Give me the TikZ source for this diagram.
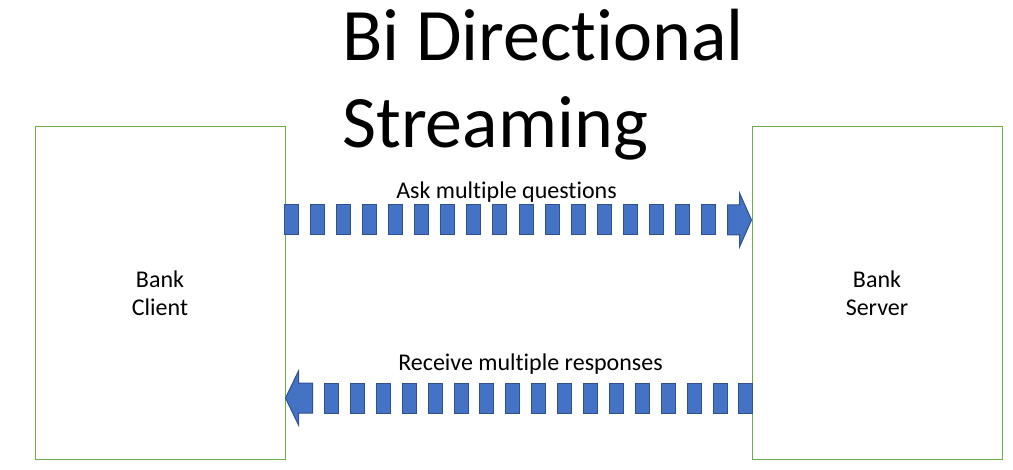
\documentclass[tikz,border=0pt]{standalone}
\usepackage{fontspec}
\setmainfont{Carlito}[RawFeature={-liga}]
\usetikzlibrary{positioning,calc}
\definecolor{boxgreen}{RGB}{112,173,71}
\definecolor{streamblue}{RGB}{68,114,196}
\definecolor{streamedge}{RGB}{47,82,143}

\begin{document}
\begin{tikzpicture}[x=0.75pt, y=-0.75pt,
	host/.style={draw=boxgreen, line width=0.75pt, minimum width=187.5pt, minimum height=249pt,
		align=center, inner sep=0pt, font=\fontsize{18}{21}\selectfont},
	stripe/.style={fill=streamblue, draw=streamedge, line width=0.75pt},
	msgtext/.style={font=\fontsize{18}{21}\selectfont, inner sep=0pt, anchor=base},
	titletext/.style={font=\fontsize{55.5}{65}\selectfont, inner sep=0pt, anchor=base west}]
	%Bildbereich
	\useasboundingbox (0,0) rectangle (1013,470);
	% Titel
	\node[titletext] (title) at (342,61) {Bi Directional};
	\node[titletext] (title2) at ($(title.base west)+(0,87)$) {Streaming};
	% Client und Server
	\node[host] (client) at (160,293) {Bank\\Client};
	\node[host, right=349.5pt of client] (server) {Bank\\Server};
	% Endpunkte der Pfeile
	\coordinate (askL) at ($(client.east)+(0,-73)$);
	\coordinate (askR) at ($(server.west)+(0,-73)$);
	\coordinate (respL) at ($(client.east)+(0,105)$);
	\coordinate (respR) at ($(server.west)+(0,105)$);
	% Fragen: Client -> Server
	\foreach \i in {0,...,16} \draw[stripe] ($(askL)+(\i*26.06-1,-15)$) rectangle +(14,30);
	\draw[stripe] ($(askR)+(-24,-15)$) -- ++(12,0) -- ++(0,-12) -- (askR)
		-- ($(askR)+(-12,27)$) -- ++(0,-12) -- ++(-12,0) -- cycle;
	\node[msgtext] (ask) at ($(askL)+(221,-21)$) {Ask multiple questions};
	% Antworten: Server -> Client
	\foreach \i in {0,...,16} \draw[stripe] ($(respL)+(39+\i*25.9,-15)$) rectangle +(14,30);
	\draw[stripe] (respL) -- ($(respL)+(13,-27)$) -- ++(0,12) -- ++(14,0) -- ++(0,30)
		-- ++(-14,0) -- ++(0,12) -- cycle;
	\node[msgtext] (resp) at ($(respL)+(245,-28)$) {Receive multiple responses};
\end{tikzpicture}
\end{document}
